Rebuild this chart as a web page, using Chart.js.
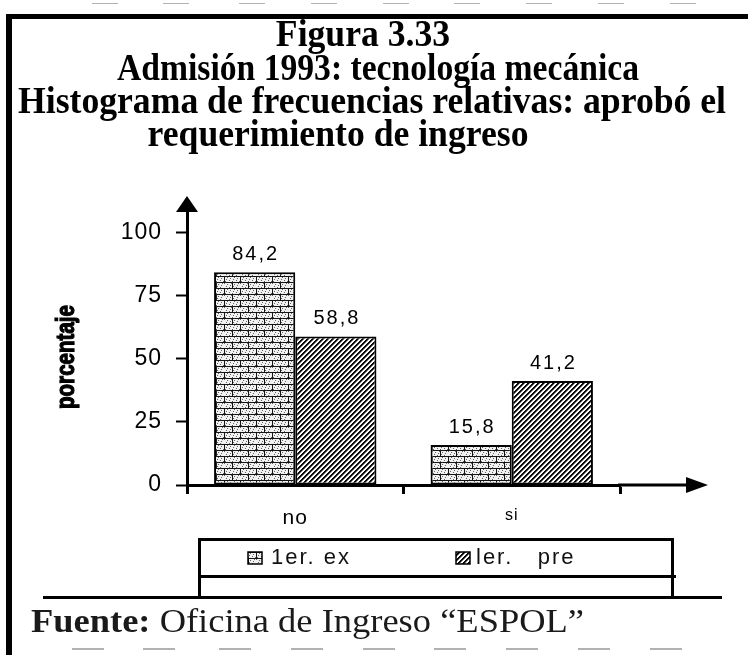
<!DOCTYPE html>
<html>
<head>
<meta charset="utf-8">
<script src="https://cdn.jsdelivr.net/npm/chart.js@4.4.1/dist/chart.umd.min.js"></script>
<style>
html, body { margin: 0; padding: 0; background: #fff; }
canvas { display: block; }
</style>
</head>
<body>
<canvas id="chart" width="748" height="655"></canvas>
<script>
// Admisión 1993 - tecnología mecánica: aprobó el requerimiento de ingreso
var categories = ['no', 'si'];
var seriesNames = ['1er. ex', 'ler.   pre'];
var examValues = [84.2, 15.8];
var preValues = [58.8, 41.2];
var yTicks = [0, 25, 50, 75, 100];
var yTitle = 'porcentaje';

var titleLines = [
	'Figura 3.33',
	'Admisión 1993: tecnología mecánica',
	'Histograma de frecuencias relativas: aprobó el',
	'requerimiento de ingreso'
];
var sourceBold = 'Fuente:';
var sourceText = ' Oficina de Ingreso \u201CESPOL\u201D';

var SANS = '"Liberation Sans", Arial, sans-serif';
var SERIF = '"Liberation Serif", "Times New Roman", serif';

var ctx = document.getElementById('chart').getContext('2d');

// Brick fill (first series)
function brickPattern() {
	var w = 16, h = 12;
	var c = document.createElement('canvas');
	c.width = w; c.height = h;
	var g = c.getContext('2d');
	var img = g.createImageData(w, h);
	for (var y = 0; y < h; y++) {
		for (var x = 0; x < w; x++) {
			var v = 240;
			if (y % 6 === 0) v = 20;
			else if (y < 6 && x === 0) v = 20;
			else if (y >= 6 && x === 8) v = 20;
			else if ((x * 3 + y * 5) % 7 === 0) v = 100;
			var i = (y * w + x) * 4;
			img.data[i] = img.data[i + 1] = img.data[i + 2] = v;
			img.data[i + 3] = 255;
		}
	}
	g.putImageData(img, 0, 0);
	return ctx.createPattern(c, 'repeat');
}

// Diagonal hatch (second series)
function hatchPattern() {
	var n = 5;
	var c = document.createElement('canvas');
	c.width = n; c.height = n;
	var g = c.getContext('2d');
	var img = g.createImageData(n, n);
	for (var y = 0; y < n; y++) {
		for (var x = 0; x < n; x++) {
			var d = (x + y) % n;
			var v = d < 2 ? 10 : (d === 2 ? 120 : 255);
			var i = (y * n + x) * 4;
			img.data[i] = img.data[i + 1] = img.data[i + 2] = v;
			img.data[i + 3] = 255;
		}
	}
	g.putImageData(img, 0, 0);
	return ctx.createPattern(c, 'repeat');
}

var fills = [brickPattern(), hatchPattern()];

function fmt(v) {
	return v.toFixed(1).replace('.', ',');
}

// White page, frame lines, title and source line
var page = {
	id: 'page',
	beforeDraw: function (chart) {
		var c = chart.ctx;
		c.save();
		c.fillStyle = '#fff';
		c.fillRect(0, 0, chart.width, chart.height);
		c.restore();
		c.letterSpacing = '1px';
	},
	afterDraw: function (chart) {
		var c = chart.ctx;
		c.save();
		c.letterSpacing = '0px';

		// frame
		c.fillStyle = '#000';
		c.fillRect(6, 14, 748 - 6, 5);
		c.fillRect(6, 14, 6, 655 - 14);

		// scan dashes along top and bottom
		c.fillStyle = 'rgba(0,0,0,0.3)';
		var dashX = [72, 143, 219, 291, 363, 434, 506, 578, 650];
		dashX.forEach(function (x) {
			c.fillRect(x, 648, 32, 2);
			c.fillRect(x + 20, 3, 26, 1);
		});

		// title: condensed bold serif
		c.fillStyle = '#000';
		c.textAlign = 'center';
		c.textBaseline = 'alphabetic';
		c.font = 'bold 38px ' + SERIF;
		var base = 708 / c.measureText(titleLines[2]).width;
		var scales = [base, 522 / c.measureText(titleLines[1]).width, base, base];
		var centers = [363, 378, 372, 338];
		var baselines = [46, 80, 113, 146];
		titleLines.forEach(function (t, i) {
			c.save();
			c.translate(centers[i], baselines[i]);
			c.scale(scales[i], 1);
			c.fillText(t, 0, 0);
			c.restore();
		});

		// y axis name, heavy and condensed
		c.save();
		c.font = 'bold 25px ' + SANS;
		var yw = c.measureText(yTitle).width;
		c.translate(67, 357);
		c.rotate(-Math.PI / 2);
		c.scale(104 / yw, 1);
		c.textBaseline = 'middle';
		c.lineWidth = 1.2;
		c.strokeStyle = '#000';
		c.strokeText(yTitle, 0, 0);
		c.fillText(yTitle, 0, 0);
		c.restore();

		// source line
		c.textAlign = 'left';
		c.fillStyle = '#1a1a1a';
		c.font = 'bold 34px ' + SERIF;
		var wb = c.measureText(sourceBold).width;
		c.font = '34px ' + SERIF;
		var wt = c.measureText(sourceText).width;
		var ss = 553 / (wb + wt);
		c.save();
		c.translate(31, 632);
		c.scale(ss, 1);
		c.font = 'bold 34px ' + SERIF;
		c.fillText(sourceBold, 0, 0);
		c.font = '34px ' + SERIF;
		c.fillText(sourceText, wb, 0);
		c.restore();

		c.restore();
	}
};

// Arrow heads on both axes
var arrows = {
	id: 'arrows',
	afterDraw: function (chart) {
		var c = chart.ctx;
		var a = chart.chartArea;
		c.save();
		c.fillStyle = '#000';
		c.strokeStyle = '#000';
		c.lineWidth = 3;
		// y axis
		c.beginPath();
		c.moveTo(a.left, a.top + 2);
		c.lineTo(a.left, a.top - 5);
		c.stroke();
		c.beginPath();
		c.moveTo(a.left, a.top - 11);
		c.lineTo(a.left - 11, a.top + 5);
		c.lineTo(a.left + 11, a.top + 5);
		c.closePath();
		c.fill();
		// x axis
		c.beginPath();
		c.moveTo(a.right - 2, a.bottom);
		c.lineTo(a.right + 70, a.bottom);
		c.stroke();
		c.beginPath();
		c.moveTo(a.right + 88, a.bottom);
		c.lineTo(a.right + 66, a.bottom - 8);
		c.lineTo(a.right + 66, a.bottom + 8);
		c.closePath();
		c.fill();
		c.restore();
	}
};

// Value above each bar
var valueLabels = {
	id: 'valueLabels',
	afterDatasetsDraw: function (chart) {
		var c = chart.ctx;
		c.save();
		c.letterSpacing = '2px';
		c.fillStyle = '#000';
		c.font = '20px ' + SANS;
		c.textAlign = 'center';
		c.textBaseline = 'alphabetic';
		chart.data.datasets.forEach(function (ds, i) {
			chart.getDatasetMeta(i).data.forEach(function (bar, j) {
				c.fillText(fmt(ds.data[j]), bar.x + 1, bar.y - 12);
			});
		});
		c.restore();
	}
};

// Boxed legend under the category labels
var legendBox = {
	id: 'legendBox',
	afterDraw: function (chart) {
		var c = chart.ctx;
		c.save();
		c.fillStyle = '#000';
		c.fillRect(198, 538, 476, 3);
		c.fillRect(198, 538, 3, 61);
		c.fillRect(671, 538, 3, 61);
		c.fillRect(198, 575, 478, 3);
		c.fillRect(43, 596, 679, 3);

		var icons = [248, 456];
		var texts = [271, 476];
		c.font = '22px ' + SANS;
		c.letterSpacing = '2px';
		c.textBaseline = 'middle';
		c.textAlign = 'left';
		chart.data.datasets.forEach(function (ds, i) {
			c.fillStyle = ds.backgroundColor;
			c.fillRect(icons[i], 552, 14, 12);
			c.lineWidth = 1.5;
			c.strokeStyle = '#000';
			c.strokeRect(icons[i], 552, 14, 12);
			c.fillStyle = '#111';
			c.fillText(ds.label, texts[i], 558);
		});
		c.restore();
	}
};

new Chart(ctx, {
	type: 'bar',
	data: {
		labels: categories,
		datasets: [{
			label: seriesNames[0],
			data: examValues,
			backgroundColor: fills[0],
			borderColor: '#000',
			borderWidth: 2,
			borderSkipped: false,
			categoryPercentage: 0.75,
			barPercentage: 1.0
		}, {
			label: seriesNames[1],
			data: preValues,
			backgroundColor: fills[1],
			borderColor: '#000',
			borderWidth: 2,
			borderSkipped: false,
			categoryPercentage: 0.75,
			barPercentage: 1.0
		}]
	},
	options: {
		responsive: false,
		animation: false,
		devicePixelRatio: 1,
		layout: { padding: { left: 40, right: 128, top: 207, bottom: 110 } },
		plugins: {
			legend: { display: false },
			title: { display: false },
			tooltip: { enabled: false }
		},
		scales: {
			x: {
				offset: true,
				grid: {
					offset: true,
					drawOnChartArea: false,
					drawTicks: true,
					tickLength: 9,
					tickWidth: 3,
					tickColor: '#000'
				},
				border: { display: true, color: '#000', width: 3 },
				ticks: {
					color: '#000',
					padding: 12,
					font: function (c) {
						return { family: SANS, size: c.index === 0 ? 21 : 16 };
					}
				},
				afterFit: function (s) { s.height = 60; }
			},
			y: {
				min: 0,
				max: 110,
				grid: {
					drawOnChartArea: false,
					drawTicks: true,
					tickLength: 11,
					tickWidth: 2,
					tickColor: '#000'
				},
				border: { display: true, color: '#000', width: 3 },
				ticks: {
					color: '#000',
					padding: 14,
					font: { family: SANS, size: 23 }
				},
				afterBuildTicks: function (s) {
					s.ticks = yTicks.map(function (v) { return { value: v }; });
				},
				afterFit: function (s) { s.width = 147; }
			}
		}
	},
	plugins: [page, arrows, valueLabels, legendBox]
});
</script>
</body>
</html>
